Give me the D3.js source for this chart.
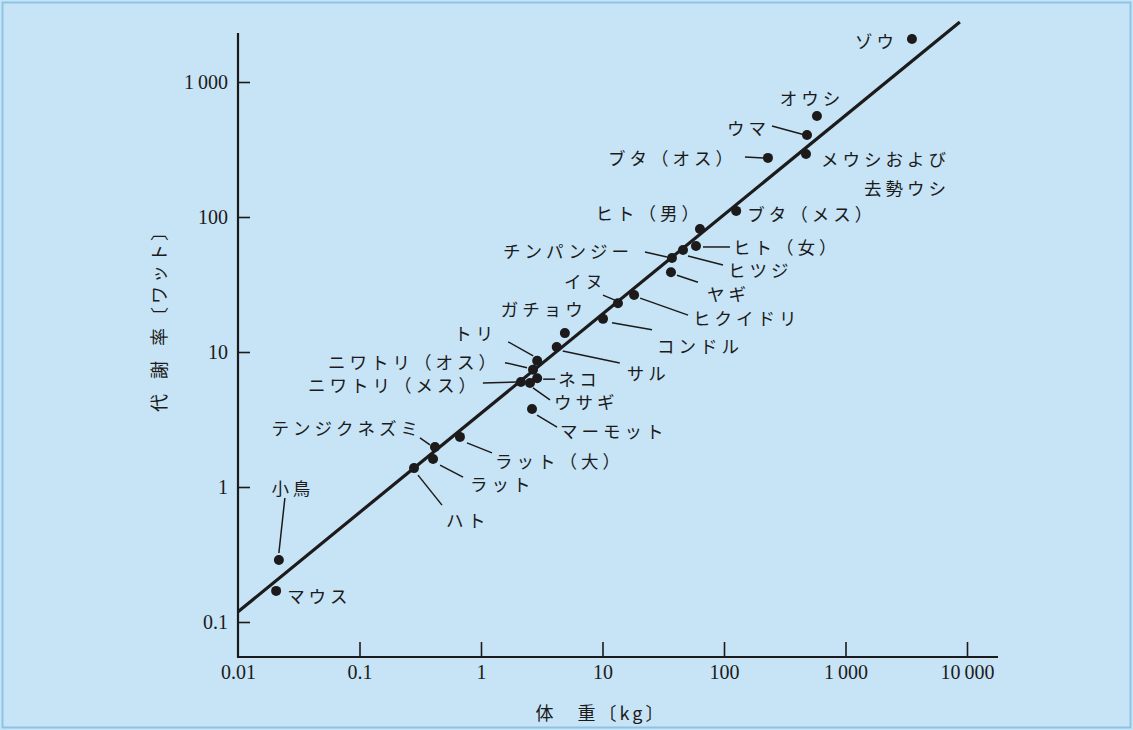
<!DOCTYPE html>
<html><head><meta charset="utf-8">
<script src="https://cdn.jsdelivr.net/npm/d3@7"></script>
<style>
html,body{margin:0;padding:0;background:#c6e4f6;}
svg{display:block;}
</style></head>
<body>
<svg id="chart" width="1133" height="730"></svg>
<script>
// ---- data ----
const animals = ["ゾウ","オウシ","ウマ","メウシおよび\n去勢ウシ","ブタ（オス）","ブタ（メス）","ヒト（男）","ヒト（女）","ヒツジ","チンパンジー","ヤギ","ヒクイドリ","イヌ","コンドル","ガチョウ","サル","トリ","ニワトリ（オス）","ネコ","ニワトリ（メス）","ウサギ","マーモット","ラット（大）","テンジクネズミ","ラット","ハト","小鳥","マウス"];
const massKg = [3524,582,482,473,230,126,63.4,58.8,46,37.3,36.6,18.2,13.4,10.1,4.9,4.2,2.9,2.68,2.9,2.13,2.53,2.63,0.671,0.418,0.403,0.281,0.0217,0.0206];
const rateW = [2083,560,405,293,274,111,81.5,61,57,49.7,39,26.4,23,17.6,13.8,10.9,8.6,7.4,6.4,6.0,5.9,3.78,2.35,1.98,1.61,1.38,0.288,0.170];
const fitMass = [0.01, 8730];
const fitRate = [0.119, 2780];
const xTickValues = [0.01,0.1,1,10,100,1000,10000];
const xTickLabels = ["0.01","0.1","1","10","100","1\u2009000","10\u2009000"];
const yTickValues = [0.1,1,10,100,1000];
const yTickLabels = ["0.1","1","10","100","1\u2009000"];
const xTitle = "体\u2003重〔kg〕";
const yTitle = "代\u2002謝\u2002率〔ワット〕";

// ---- label layout (pixel offsets from each point) ----
const labelLayout = [
  {dx:-14,dy:1,a:"end"},
  {dx:-5,dy:-19,a:"middle"},
  {dx:-37,dy:-8,a:"end",l:[-35,-9,-2,0]},
  {dx:144,dy:4,a:"end",lh:29},
  {dx:-31,dy:-1,a:"end",l:[-23,-1,-4,0]},
  {dx:11,dy:2,a:"start"},
  {dx:3,dy:-17,a:"end"},
  {dx:37,dy:0,a:"start",l:[7,1,34,1]},
  {dx:45,dy:19,a:"start",l:[5,6,40,15]},
  {dx:-39,dy:-8,a:"end",l:[-27,-6,-5,-1]},
  {dx:36,dy:21,a:"start",l:[6,3,27,10]},
  {dx:59,dy:22,a:"start",l:[6,3,54,20]},
  {dx:-11,dy:-23,a:"end",l:[-15,-8,-3,-3]},
  {dx:54,dy:26,a:"start",l:[9,4,49,11]},
  {dx:22,dy:-25,a:"end"},
  {dx:70,dy:25,a:"start",l:[6,4,63,16]},
  {dx:-40,dy:-29,a:"end",l:[-29,-19,-4,-5]},
  {dx:-33,dy:-9,a:"end",l:[-28,-7,-6,-2]},
  {dx:21,dy:0,a:"start",l:[6,1,18,1]},
  {dx:-41,dy:2,a:"end",l:[-38,1,-4,0]},
  {dx:24,dy:18,a:"start",l:[3,5,20,17]},
  {dx:28,dy:21,a:"start",l:[5,6,25,18]},
  {dx:35,dy:23,a:"start",l:[7,6,32,16]},
  {dx:-13,dy:-20,a:"end",l:[-15,-9,-5,-2]},
  {dx:37,dy:24,a:"start",l:[7,6,30,18]},
  {dx:32,dy:51,a:"start",l:[4,7,28,37]},
  {dx:14,dy:-73,a:"middle",l:[6,-62,0,-7]},
  {dx:11,dy:4,a:"start"}
];

const svg = d3.select("#chart");
const W = 1133, H = 730;
const ink = "#1c1a1a";
const jp = "'Noto Sans CJK JP', 'Noto Sans', sans-serif";
const serif = "'Liberation Serif', 'DejaVu Serif', serif";

svg.append("rect").attr("x",2.5).attr("y",2.5).attr("width",W-5).attr("height",H-5)
  .attr("fill","#c6e4f6").attr("stroke","#8fc3e6").attr("stroke-width",2);

const x = d3.scaleLog().domain([0.01,10000]).range([238,967]);
const y = d3.scaleLog().domain([0.1,1000]).range([622,82]);
const axisY0 = 657, axisXEnd = 998, axisYTop = 33;

// axes
const gx = svg.append("g").attr("transform",`translate(0,${axisY0})`)
  .call(d3.axisBottom(x).tickValues(xTickValues).tickFormat((d,i)=>xTickLabels[i]).tickSizeInner(-15).tickSizeOuter(0).tickPadding(8));
gx.select(".domain").remove();
gx.selectAll(".tick line").attr("stroke",ink).attr("stroke-width",1.6);
gx.selectAll(".tick").filter(d=>d===0.01).select("line").remove();
gx.selectAll(".tick text").attr("font-family",serif).attr("font-size",20).attr("fill",ink);

const gy = svg.append("g").attr("transform","translate(238,0)")
  .call(d3.axisLeft(y).tickValues(yTickValues).tickFormat((d,i)=>yTickLabels[i]).tickSizeInner(-12).tickSizeOuter(0).tickPadding(10));
gy.select(".domain").remove();
gy.selectAll(".tick line").attr("stroke",ink).attr("stroke-width",1.6);
gy.selectAll(".tick text").attr("font-family",serif).attr("font-size",20).attr("fill",ink);

svg.append("line").attr("x1",238).attr("x2",axisXEnd).attr("y1",axisY0).attr("y2",axisY0)
  .attr("stroke",ink).attr("stroke-width",2.2);
svg.append("line").attr("x1",238).attr("x2",238).attr("y1",axisY0+1).attr("y2",axisYTop)
  .attr("stroke",ink).attr("stroke-width",2.2);

// titles
svg.append("text").attr("x",601).attr("y",712).attr("text-anchor","middle").attr("dominant-baseline","central")
  .attr("font-family",jp).attr("font-size",18).attr("fill",ink).attr("letter-spacing",3).text(xTitle);
svg.append("text").attr("transform","translate(158,316) rotate(-90)").attr("text-anchor","middle").attr("dominant-baseline","central")
  .attr("font-family",jp).attr("font-size",18).attr("fill",ink).attr("letter-spacing",3).text(yTitle);

// fit line
const fit = fitMass.map((m,i)=>({m, r:fitRate[i]}));
svg.append("path").datum(fit)
  .attr("d", d3.line().x(d=>x(d.m)).y(d=>y(d.r)))
  .attr("stroke",ink).attr("stroke-width",3.2).attr("fill","none").attr("stroke-linecap","butt");

// data
const pts = animals.map((n,i)=>({name:n, m:massKg[i], r:rateW[i], lay:labelLayout[i]}));

// leaders
svg.append("g").selectAll("line").data(pts.filter(d=>d.lay.l)).join("line")
  .attr("x1",d=>x(d.m)+d.lay.l[0]).attr("y1",d=>y(d.r)+d.lay.l[1])
  .attr("x2",d=>x(d.m)+d.lay.l[2]).attr("y2",d=>y(d.r)+d.lay.l[3])
  .attr("stroke",ink).attr("stroke-width",1.5);

// dots
svg.append("g").selectAll("circle").data(pts).join("circle")
  .attr("cx",d=>x(d.m)).attr("cy",d=>y(d.r)).attr("r",5).attr("fill",ink);

// labels
const lg = svg.append("g");
pts.forEach(d=>{
  const lines = d.name.split("\n");
  const t = lg.append("text")
    .attr("x",x(d.m)+d.lay.dx).attr("y",y(d.r)+d.lay.dy)
    .attr("text-anchor",d.lay.a).attr("dominant-baseline","central")
    .attr("font-family",jp).attr("font-size",17.5).attr("fill",ink).attr("letter-spacing",4);
  lines.forEach((s,k)=>{
    t.append("tspan").attr("x",x(d.m)+d.lay.dx).attr("dy",k===0?0:(d.lay.lh||22)).text(s);
  });
});
</script>
</body></html>
